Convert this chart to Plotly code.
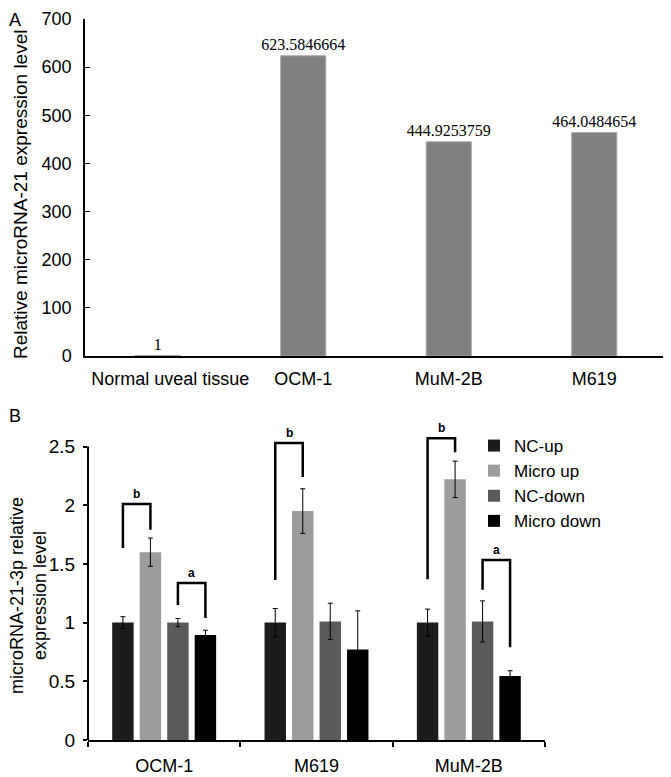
"""microRNA-21 expression: (A) tissue vs cell lines, (B) up/down transfection groups."""
import plotly.graph_objects as go

# the page body keeps its default 8px margin, so the figure is drawn 8px in
PAGE_W, PAGE_H, BODY = 671, 777, 8
W, H = PAGE_W - BODY, PAGE_H - BODY
SANS = "Liberation Sans"
SERIF = "Liberation Serif"

# ---- panel A data
TISSUES = ["Normal uveal tissue", "OCM-1", "MuM-2B", "M619"]
EXPR = [1, 623.5846664, 444.9253759, 464.0484654]

# ---- panel B data
CELL_LINES = ["OCM-1", "M619", "MuM-2B"]
GROUPS = ["NC-up", "Micro up", "NC-down", "Micro down"]
GROUP_COLORS = ["#1c1c1c", "#9c9c9c", "#5a5a5a", "#000000"]
LEVELS = {
    "NC-up":      [1.00, 1.00, 1.00],
    "Micro up":   [1.60, 1.95, 2.22],
    "NC-down":    [1.00, 1.01, 1.01],
    "Micro down": [0.895, 0.77, 0.545],
}
ERRORS = {
    "NC-up":      [0.05, 0.12, 0.115],
    "Micro up":   [0.12, 0.19, 0.155],
    "NC-down":    [0.035, 0.155, 0.175],
    "Micro down": [0.04, 0.33, 0.045],
}
B_TICKS = [0, 0.5, 1, 1.5, 2, 2.5]
B_YMAX = 2.75

# significance brackets: (cell line idx, left bar, right bar, top, left foot, right foot, label)
BRACKETS = [
    (0, 0, 1, 2.01, 1.635, 1.79, "b"),
    (0, 2, 3, 1.337, 1.15, 1.04, "a"),
    (1, 0, 1, 2.53, 1.363, 2.24, "b"),
    (2, 0, 1, 2.57, 1.37, 2.45, "b"),
    (2, 2, 3, 1.533, 1.28, 0.79, "a"),
]

BARGAP = 0.278
SLOT = (1 - BARGAP) / len(GROUPS)


def px_x(p):
    return (p - BODY) / W


def px_y(p):
    return 1 - (p - BODY) / H


def paper_text(text, x, y, size, angle=0):
    return dict(text=text, x=px_x(x), y=px_y(y), xref="paper", yref="paper",
                xanchor="center", yanchor="middle", textangle=angle,
                showarrow=False, font=dict(family=SANS, size=size, color="black"))


fig = go.Figure()

fig.add_trace(go.Bar(
    x=TISSUES, y=EXPR, width=0.31,
    marker=dict(color="#808080", line=dict(color="#a8a8a8", width=1)),
    text=[str(v) for v in EXPR], textposition="outside", constraintext="none",
    textfont=dict(family=SERIF, size=16, color="black"),
    cliponaxis=False, showlegend=False,
    xaxis="x", yaxis="y",
))

for name, color in zip(GROUPS, GROUP_COLORS):
    fig.add_trace(go.Bar(
        x=CELL_LINES, y=LEVELS[name], name=name,
        marker=dict(color=color, line=dict(width=0)),
        error_y=dict(type="data", array=ERRORS[name], color="black",
                     thickness=1, width=2.5),
        xaxis="x2", yaxis="y2",
    ))

shapes = []
annotations = []
for gi, lb, rb, top, lfoot, rfoot, lab in BRACKETS:
    xl = gi + (lb - 1.5) * SLOT
    xr = gi + (rb - 1.5) * SLOT
    shapes.append(dict(
        type="path", xref="x2", yref="y2",
        path=f"M {xl},{lfoot} L {xl},{top} L {xr},{top} L {xr},{rfoot}",
        line=dict(color="black", width=2.5),
    ))
    annotations.append(dict(
        x=(xl + xr) / 2, y=top, xref="x2", yref="y2", text=f"<b>{lab}</b>",
        showarrow=False, yanchor="bottom", yshift=1,
        font=dict(family=SANS, size=12, color="black"),
    ))

# y-axis line of panel B stops at 2.5 while brackets rise above it
shapes.append(dict(
    type="line", xref="x2 domain", yref="y2 domain",
    x0=0, x1=0, y0=0, y1=B_TICKS[-1] / B_YMAX,
    line=dict(color="black", width=2),
))

annotations += [
    paper_text("A", 15, 20, 18),
    paper_text("B", 15, 416, 18),
    paper_text("Relative microRNA-21 expression level", 21, 195, 19, -90),
    paper_text("microRNA-21-3p relative<br>expression level", 28, 596, 18, -90),
]

# first label sits a little right of its bar, as in the original layout
tissue_text = ["&nbsp;" * 5 + TISSUES[0]] + TISSUES[1:]

fig.update_layout(
    width=W, height=H,
    margin=dict(l=0, r=0, t=0, b=0, autoexpand=False),
    paper_bgcolor="white", plot_bgcolor="white",
    barmode="group", bargap=BARGAP, bargroupgap=0.22,
    font=dict(family=SANS, color="black"),
    xaxis=dict(
        domain=[px_x(85), px_x(667)], anchor="y", range=[-0.5, 3.5],
        tickvals=TISSUES, ticktext=tissue_text,
        showline=True, linecolor="black", linewidth=1.5, ticks="",
        tickfont=dict(size=18), ticklabelstandoff=6, showgrid=False,
    ),
    yaxis=dict(
        domain=[px_y(356), px_y(19)], anchor="x", range=[0, 700], dtick=100,
        showline=True, linecolor="black", linewidth=1.5,
        ticks="inside", ticklen=5, tickcolor="black",
        tickfont=dict(size=18), ticklabelstandoff=8,
        showgrid=False, zeroline=False,
    ),
    xaxis2=dict(
        domain=[px_x(88), px_x(545)], anchor="y2",
        showline=True, linecolor="black", linewidth=2,
        ticks="outside", tickson="boundaries", ticklen=5, tickwidth=2,
        tickcolor="black", tickfont=dict(size=18), ticklabelstandoff=8,
        showgrid=False,
    ),
    yaxis2=dict(
        domain=[px_y(740), px_y(740 - B_YMAX * 117.4)], anchor="x2",
        range=[0, B_YMAX], tickvals=B_TICKS, ticktext=[f"{v:g}" for v in B_TICKS],
        showline=False, ticks="outside", ticklen=4, tickwidth=1.5,
        tickcolor="black", tickfont=dict(size=19), ticklabelstandoff=4,
        showgrid=False, zeroline=False,
    ),
    legend=dict(
        x=px_x(474), y=px_y(428), xanchor="left", yanchor="top",
        font=dict(size=17), bgcolor="rgba(0,0,0,0)", tracegroupgap=0,
    ),
    shapes=shapes,
    annotations=annotations,
)

fig.write_html("out.html")
